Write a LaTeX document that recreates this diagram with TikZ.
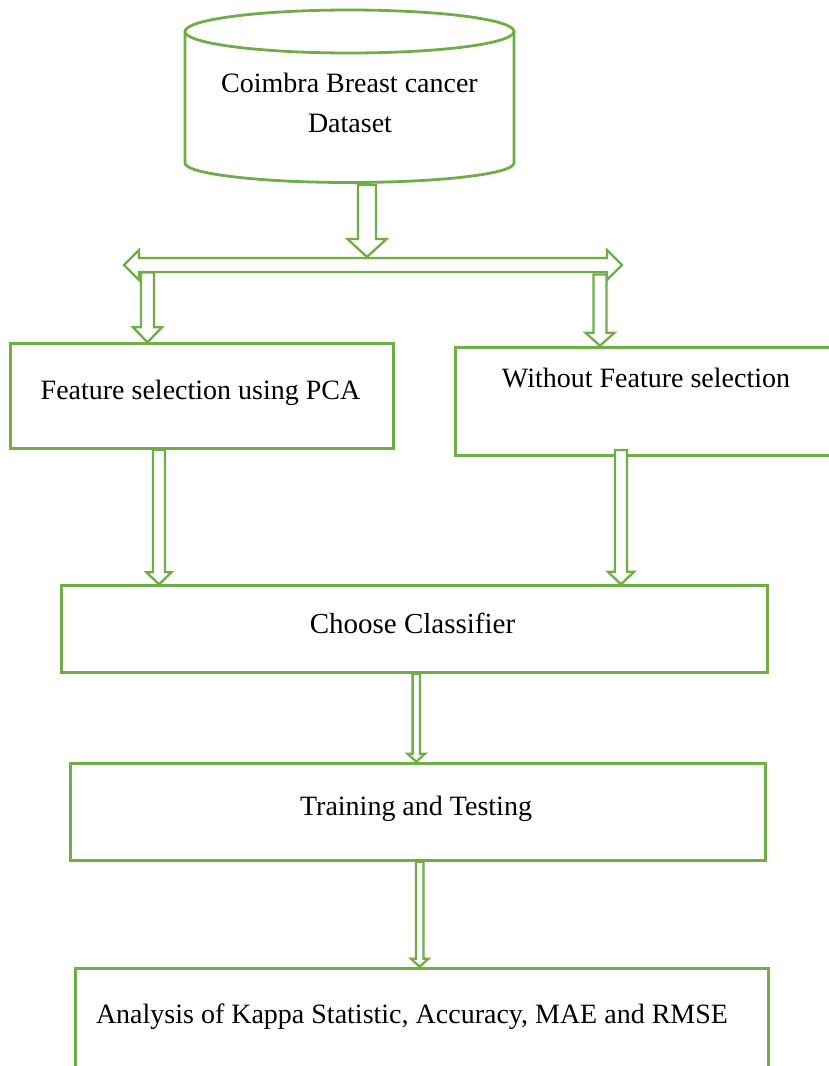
\documentclass[tikz,border=0pt]{standalone}
\usepackage{fontspec}
\setmainfont{Liberation Serif}
\usetikzlibrary{calc}
\definecolor{grn}{RGB}{112,173,71}
\tikzset{
  boxst/.style={draw=grn, line width=3pt, fill=white, inner sep=0pt, anchor=north west},
  blk/.style={draw=grn, line width=2.3pt, fill=white, line join=miter},
  txt/.style={inner sep=0pt, anchor=base, font=\fontsize{28pt}{34pt}\selectfont},
  cylst/.style={draw=grn, line width=2.8pt}
}
% vertical block arrow: #2 top point, #3 tip point, #4 shaft half width, #5 head half width, #6 head length
\newcommand\vblk[6][]{%
  \draw[blk,#1] let \p1=(#2), \p2=(#3) in
    (\x1-#4,\y1) -- (\x1-#4,\y2+#6) -- (\x1-#5,\y2+#6) -- (\x1,\y2)
    -- (\x1+#5,\y2+#6) -- (\x1+#4,\y2+#6) -- (\x1+#4,\y1) -- cycle;}
\begin{document}
\begin{tikzpicture}[x=1pt,y=-1pt]
\useasboundingbox[fill=white] (0,0) rectangle (828,1066);

% cylinder
\draw[cylst, fill=white] (185,31.5) -- (185,163)
   arc[start angle=180, end angle=0, x radius=164.5, y radius=19.5] -- (514,31.5);
\draw[cylst] (349.5,31.5) ellipse[x radius=164.5, y radius=21.5];
\node[txt] (t0a) at (349.5,92) {Coimbra Breast cancer};
\node[txt] (t0b) at (350,132) {Dataset};
\coordinate (cylbot) at (367,185);
\coordinate (splittop) at (367,257);

% boxes
\node[boxst, minimum width=383pt, minimum height=104.4pt] (b1) at (9,342.3) {};
\node[boxst, minimum width=384pt, minimum height=108.3pt] (b2) at (454,345.7) {};
\node[boxst, minimum width=705.4pt, minimum height=86.4pt] (choose) at (60.2,584.3) {};
\node[boxst, minimum width=695.1pt, minimum height=97pt] (train) at (68.6,761.7) {};
\node[boxst, minimum width=693pt, minimum height=130pt] (anal) at (74,966.7) {};

\node[txt] (t1) at (200.5,399) {Feature selection using PCA};
\node[txt] (t2) at (646,387.3) {Without Feature selection};
\node[txt, font=\fontsize{29pt}{34pt}\selectfont] (t3) at (412.5,633.3) {Choose Classifier};
\node[txt] (t4) at (416,815.7) {Training and Testing};
\node[txt] (t5) at (412,1023.3) {Analysis of Kappa Statistic, Accuracy, MAE and RMSE};

% arrow from dataset to split
\vblk{cylbot}{splittop}{9pt}{19.5pt}{18pt}

% horizontal double arrow
\coordinate (hl) at (124,265);
\coordinate (hr) at (622,265);
\draw[blk] let \p1=(hl), \p2=(hr) in
  (\x1,\y1) -- (\x1+15pt,\y1+15pt) -- (\x1+15pt,\y1+7pt) -- (\x2-15pt,\y1+7pt)
  -- (\x2-15pt,\y1+15pt) -- (\x2,\y1) -- (\x2-15pt,\y1-15pt) -- (\x2-15pt,\y1-7pt)
  -- (\x1+15pt,\y1-7pt) -- (\x1+15pt,\y1-15pt) -- cycle;

% split to boxes
\coordinate (s1) at (147.5,272.5);
\coordinate (s2) at (600,274.5);
\vblk{s1}{s1 |- b1.north}{6.5pt}{14.5pt}{15pt}
\vblk{s2}{s2 |- b2.north}{6.5pt}{14.5pt}{13pt}

% boxes to classifier
\coordinate (x3) at (159,0);
\coordinate (x4) at (621,0);
\vblk{x3 |- b1.south}{x3 |- choose.north}{6pt}{12.5pt}{12pt}
\coordinate (a4top) at (621,450);
\vblk{a4top}{x4 |- choose.north}{6pt}{13pt}{12.5pt}

% classifier to training
\coordinate (x5) at (416.3,0);
\vblk{x5 |- choose.south}{x5 |- train.north}{3.7pt}{8.8pt}{8pt}

% training to analysis
\coordinate (x6) at (419.7,0);
\vblk{x6 |- train.south}{x6 |- anal.north}{3.7pt}{8.7pt}{8pt}
\end{tikzpicture}
\end{document}
